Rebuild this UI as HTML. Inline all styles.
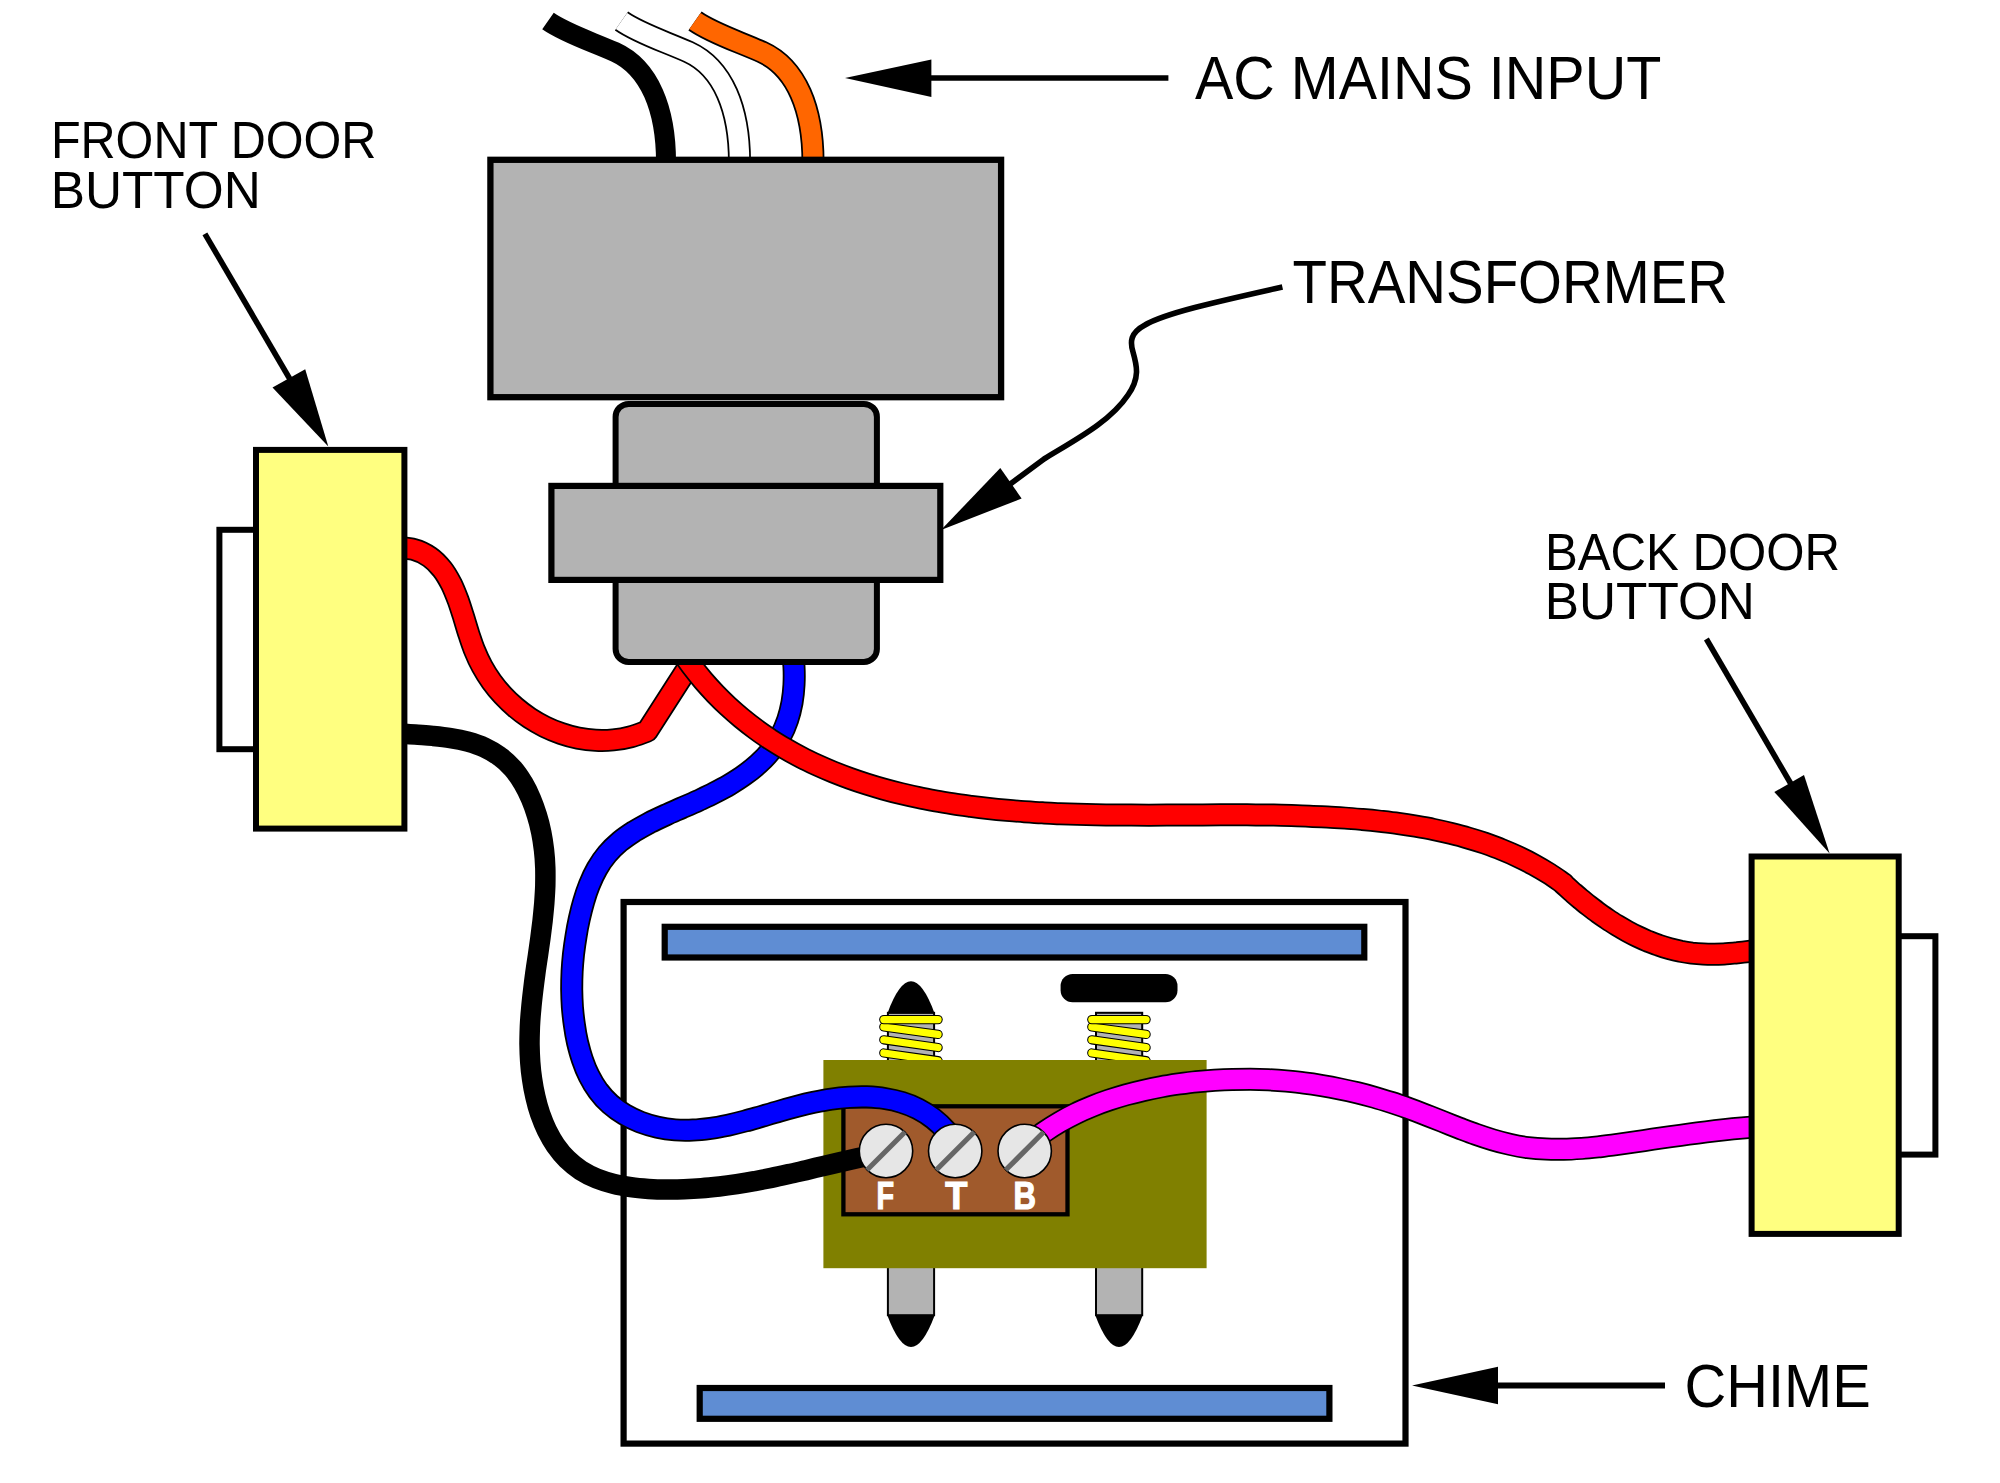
<!DOCTYPE html>
<html><head><meta charset="utf-8">
<style>
html,body{margin:0;padding:0;background:#fff;width:2000px;height:1483px;overflow:hidden}
svg{display:block}
text{font-family:"Liberation Sans",sans-serif;fill:#000}
</style></head>
<body>
<svg width="2000" height="1483" viewBox="0 0 2000 1483">
<rect x="0" y="0" width="2000" height="1483" fill="#fff"/>

<!-- AC mains wires -->
<g fill="none" stroke-linecap="butt">
  <path id="acw" d="M548,21 C565,33 590,41 615,52 C650,68 666,110 666,162" stroke="#000" stroke-width="20"/>
  <g transform="translate(73.5,0)">
    <path d="M548,21 C565,33 590,41 615,52 C650,68 666,110 666,162" stroke="#000" stroke-width="23"/>
    <path d="M548,21 C565,33 590,41 615,52 C650,68 666,110 666,162" stroke="#fff" stroke-width="19.5"/>
  </g>
  <g transform="translate(147,0)">
    <path d="M548,21 C565,33 590,41 615,52 C650,68 666,110 666,162" stroke="#000" stroke-width="23"/>
    <path d="M548,21 C565,33 590,41 615,52 C650,68 666,110 666,162" stroke="#ff6600" stroke-width="19.5"/>
  </g>
</g>

<!-- Chime box -->
<rect x="623.6" y="902" width="781.9" height="541.6" fill="#fff" stroke="#000" stroke-width="6.2"/>
<rect x="664.7" y="926.8" width="699.6" height="30.7" fill="#5f8dd3" stroke="#000" stroke-width="6.2"/>
<rect x="699.7" y="1388" width="629.7" height="30.8" fill="#5f8dd3" stroke="#000" stroke-width="6.2"/>

<!-- plungers -->
<g id="plunger" stroke="#000">
  <rect x="887.9" y="1012.8" width="46.2" height="302.4" fill="#b3b3b3" stroke-width="2"/>
  <path d="M887.4,1013.4 Q911,949.2 934.6,1013.4 Z" stroke="none" fill="#000"/>
  <path d="M887.4,1315.5 Q911,1378.5 934.6,1315.5 Z" stroke="none" fill="#000"/>
</g>
<g stroke="#000">
  <rect x="1096" y="1012.8" width="46.2" height="302.4" fill="#b3b3b3" stroke-width="2"/>
  <rect x="1060.6" y="973.9" width="116.9" height="28.3" rx="12" ry="12" fill="#000" stroke="none"/>
  <path d="M1095.4,1315.5 Q1119,1378.5 1142.6,1315.5 Z" stroke="none" fill="#000"/>
</g>

<!-- springs -->

<g stroke-linecap="round" fill="none">
  <path d="M883.8,1053 L938.1,1060.7" stroke="#000" stroke-width="9.3"/>
  <path d="M883.8,1053 L938.1,1060.7" stroke="#ff0" stroke-width="7.2"/>
  <path d="M883.8,1039.8 L938.1,1047.5" stroke="#000" stroke-width="9.3"/>
  <path d="M883.8,1039.8 L938.1,1047.5" stroke="#ff0" stroke-width="7.2"/>
  <path d="M883.8,1027 L938.1,1034.4" stroke="#000" stroke-width="9.3"/>
  <path d="M883.8,1027 L938.1,1034.4" stroke="#ff0" stroke-width="7.2"/>
  <path d="M883.8,1019.6 L938.1,1019.6" stroke="#000" stroke-width="9.3"/>
  <path d="M883.8,1019.6 L938.1,1019.6" stroke="#ff0" stroke-width="7.2"/>
</g>
<g stroke-linecap="round" fill="none" transform="translate(208,0)">
  <path d="M883.8,1053 L938.1,1060.7" stroke="#000" stroke-width="9.3"/>
  <path d="M883.8,1053 L938.1,1060.7" stroke="#ff0" stroke-width="7.2"/>
  <path d="M883.8,1039.8 L938.1,1047.5" stroke="#000" stroke-width="9.3"/>
  <path d="M883.8,1039.8 L938.1,1047.5" stroke="#ff0" stroke-width="7.2"/>
  <path d="M883.8,1027 L938.1,1034.4" stroke="#000" stroke-width="9.3"/>
  <path d="M883.8,1027 L938.1,1034.4" stroke="#ff0" stroke-width="7.2"/>
  <path d="M883.8,1019.6 L938.1,1019.6" stroke="#000" stroke-width="9.3"/>
  <path d="M883.8,1019.6 L938.1,1019.6" stroke="#ff0" stroke-width="7.2"/>
</g>

<!-- solenoid body -->
<rect x="823.4" y="1060" width="383.2" height="208.2" fill="#808000"/>
<rect x="843.4" y="1106.3" width="224.1" height="108" fill="#a05a2c" stroke="#000" stroke-width="4.3"/>

<!-- wires -->
<g fill="none" stroke-linecap="butt" stroke-linejoin="round">
  <path d="M396.2,547.6 C402.1,548.2 408.3,547.9 413.9,549.5 C419.4,551.0 424.9,553.6 429.6,556.9 C434.4,560.2 438.6,564.7 442.2,569.2 C445.9,573.8 448.7,579.0 451.4,584.1 C454.0,589.4 456.1,594.9 458.2,600.4 C460.2,606.0 461.9,611.6 463.7,617.3 C465.4,622.8 467.0,628.5 468.8,634.0 C470.7,639.6 472.5,645.3 474.7,650.7 C476.9,656.2 479.3,661.5 482.2,666.6 C485.0,671.8 488.2,676.8 491.6,681.6 C495.0,686.3 498.7,690.9 502.7,695.1 C506.7,699.4 511.0,703.5 515.4,707.3 C519.9,711.2 524.7,714.7 529.6,718.0 C534.5,721.2 539.6,724.1 544.8,726.7 C550.1,729.3 555.6,731.6 561.2,733.5 C566.7,735.4 572.4,737.0 578.1,738.1 C583.8,739.2 589.8,740.0 595.6,740.3 C601.5,740.6 607.4,740.5 613.2,739.9 C619.1,739.3 624.9,738.3 630.5,736.8 C636.2,735.4 641.6,733.1 647.1,731.2 L696,655" stroke="#000" stroke-width="23"/>
  <path d="M396.2,547.6 C402.1,548.2 408.3,547.9 413.9,549.5 C419.4,551.0 424.9,553.6 429.6,556.9 C434.4,560.2 438.6,564.7 442.2,569.2 C445.9,573.8 448.7,579.0 451.4,584.1 C454.0,589.4 456.1,594.9 458.2,600.4 C460.2,606.0 461.9,611.6 463.7,617.3 C465.4,622.8 467.0,628.5 468.8,634.0 C470.7,639.6 472.5,645.3 474.7,650.7 C476.9,656.2 479.3,661.5 482.2,666.6 C485.0,671.8 488.2,676.8 491.6,681.6 C495.0,686.3 498.7,690.9 502.7,695.1 C506.7,699.4 511.0,703.5 515.4,707.3 C519.9,711.2 524.7,714.7 529.6,718.0 C534.5,721.2 539.6,724.1 544.8,726.7 C550.1,729.3 555.6,731.6 561.2,733.5 C566.7,735.4 572.4,737.0 578.1,738.1 C583.8,739.2 589.8,740.0 595.6,740.3 C601.5,740.6 607.4,740.5 613.2,739.9 C619.1,739.3 624.9,738.3 630.5,736.8 C636.2,735.4 641.6,733.1 647.1,731.2 L696,655" stroke="#f00" stroke-width="19.5"/>
  <path d="M792.1,649.3 C792.7,655.2 793.7,661.1 794.0,667.0 C794.3,672.9 794.3,678.8 794.0,684.8 C793.7,690.8 793.0,696.9 792.0,702.7 C790.9,708.5 789.6,714.2 787.7,719.7 C785.8,725.3 783.5,730.9 780.6,736.1 C777.8,741.3 774.4,746.3 770.7,750.9 C767.0,755.5 762.8,759.8 758.4,763.8 C754.0,767.8 749.3,771.5 744.5,774.9 C739.7,778.4 734.7,781.5 729.6,784.6 C724.5,787.6 719.3,790.3 714.0,793.0 C708.9,795.7 703.6,798.1 698.3,800.6 C692.9,803.1 687.3,805.5 681.8,807.9 C676.4,810.3 671.1,812.5 665.8,815.0 C660.4,817.5 654.8,820.1 649.4,822.8 C644.2,825.6 639.0,828.4 634.0,831.5 C629.1,834.7 624.2,838.0 619.7,841.7 C615.2,845.5 610.9,849.6 607.1,854.1 C603.3,858.6 599.9,863.6 597.0,868.7 C594.0,873.9 591.5,879.4 589.3,884.9 C587.1,890.3 585.3,895.9 583.7,901.5 C582.0,907.2 580.6,913.0 579.3,918.8 C578.0,924.6 576.9,930.5 576.0,936.4 C575.0,942.3 574.2,948.3 573.5,954.2 C572.9,960.0 572.4,965.7 572.1,971.5 C571.8,977.4 571.7,983.4 571.7,989.3 C571.8,995.3 572.0,1001.2 572.4,1007.2 C572.9,1013.1 573.5,1019.0 574.4,1024.9 C575.2,1030.8 576.2,1036.7 577.5,1042.4 C578.9,1048.2 580.4,1053.9 582.3,1059.4 C584.2,1065.0 586.3,1070.5 589.0,1075.8 C591.6,1081.0 594.6,1086.2 598.2,1090.9 C601.7,1095.7 605.9,1100.3 610.3,1104.2 C614.7,1108.1 619.4,1111.4 624.4,1114.4 C629.5,1117.4 634.9,1119.9 640.4,1122.1 C646.0,1124.2 651.8,1125.9 657.6,1127.2 C663.3,1128.5 669.2,1129.4 675.1,1129.9 C681.1,1130.4 687.2,1130.4 693.1,1130.1 C699.0,1129.9 704.8,1129.2 710.6,1128.4 C716.4,1127.6 722.3,1126.4 728.1,1125.2 C733.8,1123.9 739.4,1122.5 745.1,1121.0 C750.8,1119.5 756.5,1117.8 762.2,1116.2 C768.0,1114.5 773.7,1112.8 779.4,1111.2 C785.2,1109.5 791.0,1107.9 796.8,1106.4 C802.4,1104.9 808.0,1103.5 813.8,1102.3 C819.6,1101.1 825.5,1099.9 831.4,1099.1 C837.3,1098.2 843.2,1097.6 849.1,1097.2 C854.9,1096.8 860.7,1096.6 866.6,1096.8 C872.5,1097.1 878.7,1097.5 884.6,1098.5 C890.4,1099.4 896.2,1100.6 901.8,1102.4 C907.4,1104.1 912.8,1106.2 918.0,1108.9 C923.3,1111.6 928.6,1115.0 933.3,1118.6 C937.9,1122.2 942.2,1126.2 946.0,1130.6 C949.9,1135.0 953.0,1140.1 956.5,1144.8" stroke="#000" stroke-width="23"/>
  <path d="M792.1,649.3 C792.7,655.2 793.7,661.1 794.0,667.0 C794.3,672.9 794.3,678.8 794.0,684.8 C793.7,690.8 793.0,696.9 792.0,702.7 C790.9,708.5 789.6,714.2 787.7,719.7 C785.8,725.3 783.5,730.9 780.6,736.1 C777.8,741.3 774.4,746.3 770.7,750.9 C767.0,755.5 762.8,759.8 758.4,763.8 C754.0,767.8 749.3,771.5 744.5,774.9 C739.7,778.4 734.7,781.5 729.6,784.6 C724.5,787.6 719.3,790.3 714.0,793.0 C708.9,795.7 703.6,798.1 698.3,800.6 C692.9,803.1 687.3,805.5 681.8,807.9 C676.4,810.3 671.1,812.5 665.8,815.0 C660.4,817.5 654.8,820.1 649.4,822.8 C644.2,825.6 639.0,828.4 634.0,831.5 C629.1,834.7 624.2,838.0 619.7,841.7 C615.2,845.5 610.9,849.6 607.1,854.1 C603.3,858.6 599.9,863.6 597.0,868.7 C594.0,873.9 591.5,879.4 589.3,884.9 C587.1,890.3 585.3,895.9 583.7,901.5 C582.0,907.2 580.6,913.0 579.3,918.8 C578.0,924.6 576.9,930.5 576.0,936.4 C575.0,942.3 574.2,948.3 573.5,954.2 C572.9,960.0 572.4,965.7 572.1,971.5 C571.8,977.4 571.7,983.4 571.7,989.3 C571.8,995.3 572.0,1001.2 572.4,1007.2 C572.9,1013.1 573.5,1019.0 574.4,1024.9 C575.2,1030.8 576.2,1036.7 577.5,1042.4 C578.9,1048.2 580.4,1053.9 582.3,1059.4 C584.2,1065.0 586.3,1070.5 589.0,1075.8 C591.6,1081.0 594.6,1086.2 598.2,1090.9 C601.7,1095.7 605.9,1100.3 610.3,1104.2 C614.7,1108.1 619.4,1111.4 624.4,1114.4 C629.5,1117.4 634.9,1119.9 640.4,1122.1 C646.0,1124.2 651.8,1125.9 657.6,1127.2 C663.3,1128.5 669.2,1129.4 675.1,1129.9 C681.1,1130.4 687.2,1130.4 693.1,1130.1 C699.0,1129.9 704.8,1129.2 710.6,1128.4 C716.4,1127.6 722.3,1126.4 728.1,1125.2 C733.8,1123.9 739.4,1122.5 745.1,1121.0 C750.8,1119.5 756.5,1117.8 762.2,1116.2 C768.0,1114.5 773.7,1112.8 779.4,1111.2 C785.2,1109.5 791.0,1107.9 796.8,1106.4 C802.4,1104.9 808.0,1103.5 813.8,1102.3 C819.6,1101.1 825.5,1099.9 831.4,1099.1 C837.3,1098.2 843.2,1097.6 849.1,1097.2 C854.9,1096.8 860.7,1096.6 866.6,1096.8 C872.5,1097.1 878.7,1097.5 884.6,1098.5 C890.4,1099.4 896.2,1100.6 901.8,1102.4 C907.4,1104.1 912.8,1106.2 918.0,1108.9 C923.3,1111.6 928.6,1115.0 933.3,1118.6 C937.9,1122.2 942.2,1126.2 946.0,1130.6 C949.9,1135.0 953.0,1140.1 956.5,1144.8" stroke="#00f" stroke-width="19.5"/>
  <path d="M681.6,652.0 C685.1,656.9 688.5,661.9 692.1,666.7 C695.7,671.4 699.4,676.0 703.2,680.5 C707.1,685.0 711.1,689.4 715.2,693.7 C719.4,698.0 723.7,702.3 728.1,706.4 C732.5,710.4 736.9,714.3 741.5,718.1 C746.1,721.9 750.7,725.5 755.5,729.0 C760.2,732.5 765.0,735.8 769.9,739.1 C774.9,742.3 780.0,745.5 785.2,748.5 C790.4,751.6 795.7,754.5 801.0,757.2 C806.2,759.9 811.4,762.4 816.7,764.9 C822.2,767.4 827.7,769.8 833.3,772.1 C838.8,774.3 844.2,776.4 849.8,778.4 C855.3,780.4 860.9,782.3 866.5,784.0 C872.2,785.8 877.9,787.5 883.6,789.1 C889.3,790.7 895.1,792.2 900.9,793.6 C906.7,795.0 912.5,796.3 918.4,797.5 C924.3,798.8 930.2,799.9 936.1,801.0 C941.9,802.1 947.7,803.0 953.5,803.9 C959.3,804.8 965.2,805.6 971.0,806.4 C976.9,807.2 982.7,807.9 988.6,808.5 C994.6,809.2 1000.8,809.8 1006.8,810.3 C1012.7,810.8 1018.6,811.3 1024.5,811.7 C1030.4,812.1 1036.3,812.5 1042.2,812.8 C1048.1,813.2 1054.0,813.4 1059.9,813.7 C1065.8,813.9 1071.6,814.1 1077.5,814.3 C1083.5,814.5 1089.6,814.6 1095.6,814.8 C1101.5,814.9 1107.3,815.0 1113.1,815.0 C1119.1,815.1 1125.1,815.1 1131.1,815.1 C1137.1,815.2 1143.0,815.2 1149.0,815.2 C1155.0,815.1 1160.9,815.1 1166.9,815.1 C1172.8,815.1 1178.8,815.0 1184.7,815.0 C1190.7,815.0 1196.6,814.9 1202.6,814.9 C1208.5,814.9 1214.4,814.8 1220.4,814.8 C1226.3,814.8 1232.2,814.8 1238.2,814.8 C1244.1,814.8 1250.0,814.9 1255.9,814.9 C1261.9,815.0 1267.8,815.0 1273.7,815.1 C1279.7,815.3 1285.6,815.4 1291.5,815.5 C1297.5,815.7 1303.4,815.9 1309.4,816.2 C1315.3,816.4 1321.3,816.7 1327.2,817.0 C1333.2,817.3 1339.2,817.7 1345.1,818.1 C1351.0,818.5 1356.7,819.0 1362.5,819.5 C1368.5,820.0 1374.5,820.6 1380.5,821.3 C1386.4,822.0 1392.4,822.7 1398.4,823.5 C1404.2,824.3 1409.9,825.2 1415.7,826.2 C1421.6,827.2 1427.5,828.2 1433.4,829.4 C1439.2,830.6 1445.1,831.9 1450.9,833.4 C1456.6,834.8 1462.1,836.2 1467.7,837.9 C1473.4,839.5 1479.1,841.3 1484.8,843.2 C1490.4,845.2 1496.0,847.2 1501.5,849.5 C1507.0,851.7 1512.5,854.0 1517.9,856.6 C1523.3,859.1 1528.7,861.8 1533.9,864.7 C1539.0,867.5 1544.1,870.5 1549.0,873.6 C1554.0,876.7 1558.8,880.2 1563.7,883.6 L1563.4,883.8 C1566.2,886.3 1569.0,889.0 1571.8,891.5 C1574.7,894.0 1577.5,896.5 1580.5,898.9 C1583.4,901.3 1586.4,903.7 1589.4,906.1 C1592.4,908.4 1595.4,910.7 1598.5,913.0 C1601.6,915.2 1604.7,917.4 1607.9,919.5 C1611.0,921.6 1614.2,923.6 1617.4,925.6 C1620.7,927.6 1624.0,929.5 1627.4,931.3 C1630.7,933.1 1634.1,934.9 1637.5,936.5 C1640.9,938.1 1644.4,939.7 1647.9,941.2 C1651.5,942.6 1655.0,944.0 1658.6,945.2 C1662.2,946.5 1665.8,947.6 1669.5,948.6 C1673.2,949.6 1676.9,950.5 1680.6,951.3 C1684.4,952.0 1688.1,952.6 1691.9,953.1 C1695.6,953.5 1699.4,953.8 1703.2,954.0 C1707.0,954.2 1710.9,954.2 1714.6,954.2 C1718.4,954.1 1722.2,954.0 1726.0,953.7 C1729.8,953.5 1733.6,953.1 1737.4,952.8 C1741.2,952.4 1745.0,951.9 1748.8,951.5 C1752.6,951.0 1756.3,950.5 1760.0,950.0" stroke="#000" stroke-width="23"/>
  <path d="M681.6,652.0 C685.1,656.9 688.5,661.9 692.1,666.7 C695.7,671.4 699.4,676.0 703.2,680.5 C707.1,685.0 711.1,689.4 715.2,693.7 C719.4,698.0 723.7,702.3 728.1,706.4 C732.5,710.4 736.9,714.3 741.5,718.1 C746.1,721.9 750.7,725.5 755.5,729.0 C760.2,732.5 765.0,735.8 769.9,739.1 C774.9,742.3 780.0,745.5 785.2,748.5 C790.4,751.6 795.7,754.5 801.0,757.2 C806.2,759.9 811.4,762.4 816.7,764.9 C822.2,767.4 827.7,769.8 833.3,772.1 C838.8,774.3 844.2,776.4 849.8,778.4 C855.3,780.4 860.9,782.3 866.5,784.0 C872.2,785.8 877.9,787.5 883.6,789.1 C889.3,790.7 895.1,792.2 900.9,793.6 C906.7,795.0 912.5,796.3 918.4,797.5 C924.3,798.8 930.2,799.9 936.1,801.0 C941.9,802.1 947.7,803.0 953.5,803.9 C959.3,804.8 965.2,805.6 971.0,806.4 C976.9,807.2 982.7,807.9 988.6,808.5 C994.6,809.2 1000.8,809.8 1006.8,810.3 C1012.7,810.8 1018.6,811.3 1024.5,811.7 C1030.4,812.1 1036.3,812.5 1042.2,812.8 C1048.1,813.2 1054.0,813.4 1059.9,813.7 C1065.8,813.9 1071.6,814.1 1077.5,814.3 C1083.5,814.5 1089.6,814.6 1095.6,814.8 C1101.5,814.9 1107.3,815.0 1113.1,815.0 C1119.1,815.1 1125.1,815.1 1131.1,815.1 C1137.1,815.2 1143.0,815.2 1149.0,815.2 C1155.0,815.1 1160.9,815.1 1166.9,815.1 C1172.8,815.1 1178.8,815.0 1184.7,815.0 C1190.7,815.0 1196.6,814.9 1202.6,814.9 C1208.5,814.9 1214.4,814.8 1220.4,814.8 C1226.3,814.8 1232.2,814.8 1238.2,814.8 C1244.1,814.8 1250.0,814.9 1255.9,814.9 C1261.9,815.0 1267.8,815.0 1273.7,815.1 C1279.7,815.3 1285.6,815.4 1291.5,815.5 C1297.5,815.7 1303.4,815.9 1309.4,816.2 C1315.3,816.4 1321.3,816.7 1327.2,817.0 C1333.2,817.3 1339.2,817.7 1345.1,818.1 C1351.0,818.5 1356.7,819.0 1362.5,819.5 C1368.5,820.0 1374.5,820.6 1380.5,821.3 C1386.4,822.0 1392.4,822.7 1398.4,823.5 C1404.2,824.3 1409.9,825.2 1415.7,826.2 C1421.6,827.2 1427.5,828.2 1433.4,829.4 C1439.2,830.6 1445.1,831.9 1450.9,833.4 C1456.6,834.8 1462.1,836.2 1467.7,837.9 C1473.4,839.5 1479.1,841.3 1484.8,843.2 C1490.4,845.2 1496.0,847.2 1501.5,849.5 C1507.0,851.7 1512.5,854.0 1517.9,856.6 C1523.3,859.1 1528.7,861.8 1533.9,864.7 C1539.0,867.5 1544.1,870.5 1549.0,873.6 C1554.0,876.7 1558.8,880.2 1563.7,883.6 L1563.4,883.8 C1566.2,886.3 1569.0,889.0 1571.8,891.5 C1574.7,894.0 1577.5,896.5 1580.5,898.9 C1583.4,901.3 1586.4,903.7 1589.4,906.1 C1592.4,908.4 1595.4,910.7 1598.5,913.0 C1601.6,915.2 1604.7,917.4 1607.9,919.5 C1611.0,921.6 1614.2,923.6 1617.4,925.6 C1620.7,927.6 1624.0,929.5 1627.4,931.3 C1630.7,933.1 1634.1,934.9 1637.5,936.5 C1640.9,938.1 1644.4,939.7 1647.9,941.2 C1651.5,942.6 1655.0,944.0 1658.6,945.2 C1662.2,946.5 1665.8,947.6 1669.5,948.6 C1673.2,949.6 1676.9,950.5 1680.6,951.3 C1684.4,952.0 1688.1,952.6 1691.9,953.1 C1695.6,953.5 1699.4,953.8 1703.2,954.0 C1707.0,954.2 1710.9,954.2 1714.6,954.2 C1718.4,954.1 1722.2,954.0 1726.0,953.7 C1729.8,953.5 1733.6,953.1 1737.4,952.8 C1741.2,952.4 1745.0,951.9 1748.8,951.5 C1752.6,951.0 1756.3,950.5 1760.0,950.0" stroke="#f00" stroke-width="19.5"/>
  <path d="M397.2,733.2 C403.2,733.7 409.2,734.1 415.2,734.5 C421.1,735.0 426.9,735.3 432.8,735.9 C438.7,736.5 444.7,737.1 450.5,738.1 C456.3,739.0 462.1,740.1 467.8,741.7 C473.4,743.3 479.1,745.1 484.4,747.6 C489.7,750.1 495.0,753.0 499.7,756.5 C504.5,759.9 508.9,764.1 512.8,768.5 C516.7,772.9 519.9,777.8 523.0,782.8 C526.0,787.9 528.7,793.4 531.0,798.9 C533.3,804.3 535.2,809.7 536.9,815.3 C538.7,820.9 540.1,826.8 541.3,832.6 C542.5,838.4 543.3,844.1 544.0,850.0 C544.7,855.8 545.1,861.8 545.3,867.8 C545.5,873.7 545.4,879.7 545.3,885.6 C545.1,891.4 544.7,897.2 544.3,903.0 C543.8,908.9 543.2,914.7 542.6,920.6 C541.9,926.4 541.1,932.3 540.4,938.1 C539.6,944.0 538.7,949.9 537.9,955.8 C537.0,961.7 536.1,967.6 535.3,973.5 C534.5,979.3 533.8,985.0 533.1,990.9 C532.4,996.8 531.7,1002.8 531.2,1008.8 C530.6,1014.7 530.2,1020.5 529.9,1026.4 C529.7,1032.2 529.5,1038.1 529.5,1044.0 C529.6,1050.0 529.8,1056.0 530.2,1061.9 C530.6,1067.7 531.2,1073.5 532.1,1079.3 C532.9,1085.1 534.0,1091.0 535.4,1096.8 C536.7,1102.5 538.2,1108.1 540.1,1113.7 C542.1,1119.3 544.3,1125.0 546.9,1130.4 C549.5,1135.6 552.3,1140.7 555.6,1145.5 C559.0,1150.3 562.8,1155.1 567.0,1159.2 C571.2,1163.3 575.9,1167.1 580.8,1170.3 C585.8,1173.5 591.2,1176.2 596.7,1178.4 C602.2,1180.6 607.9,1182.3 613.6,1183.8 C619.2,1185.2 625.0,1186.2 630.8,1187.1 C636.6,1188.0 642.6,1188.5 648.6,1188.9 C654.4,1189.3 660.3,1189.5 666.2,1189.5 C672.1,1189.6 678.1,1189.5 684.0,1189.2 C689.9,1189.0 695.6,1188.7 701.4,1188.2 C707.3,1187.7 713.4,1187.1 719.3,1186.5 C725.2,1185.8 730.9,1185.0 736.8,1184.1 C742.6,1183.2 748.6,1182.2 754.4,1181.2 C760.1,1180.1 765.7,1179.0 771.4,1177.9 C777.2,1176.7 783.0,1175.4 788.8,1174.1 C794.6,1172.9 800.3,1171.5 806.1,1170.2 C811.9,1168.8 817.8,1167.4 823.6,1166.1 C829.3,1164.7 835.0,1163.4 840.7,1162.0 C846.5,1160.7 852.4,1159.3 858.2,1158.0 C863.9,1156.8 869.5,1155.5 875.2,1154.4 C880.9,1153.2 886.7,1152.0 892.5,1150.9" stroke="#000" stroke-width="20.5"/>
  <path d="M1030.0,1142.8 C1034.9,1139.1 1039.6,1135.2 1044.6,1131.7 C1049.5,1128.3 1054.5,1125.1 1059.7,1122.1 C1064.9,1119.1 1070.2,1116.2 1075.6,1113.6 C1080.9,1111.0 1086.3,1108.7 1091.8,1106.4 C1097.4,1104.1 1103.2,1102.0 1108.9,1100.1 C1114.6,1098.2 1120.3,1096.4 1126.0,1094.8 C1131.8,1093.2 1137.6,1091.7 1143.5,1090.4 C1149.3,1089.1 1155.2,1087.9 1161.1,1086.8 C1167.0,1085.7 1172.9,1084.8 1178.8,1083.9 C1184.7,1083.1 1190.6,1082.3 1196.5,1081.7 C1202.5,1081.1 1208.6,1080.6 1214.6,1080.2 C1220.5,1079.8 1226.3,1079.5 1232.3,1079.4 C1238.3,1079.2 1244.3,1079.2 1250.3,1079.2 C1256.3,1079.3 1262.3,1079.5 1268.3,1079.8 C1274.3,1080.1 1280.3,1080.5 1286.3,1081.0 C1292.3,1081.6 1298.2,1082.2 1304.2,1083.0 C1310.1,1083.7 1316.0,1084.6 1322.0,1085.6 C1327.9,1086.6 1333.8,1087.7 1339.7,1088.9 C1345.6,1090.1 1351.5,1091.4 1357.3,1092.8 C1363.0,1094.2 1368.7,1095.7 1374.4,1097.3 C1380.2,1099.0 1386.0,1100.8 1391.8,1102.6 C1397.4,1104.4 1403.0,1106.4 1408.6,1108.4 C1414.2,1110.4 1419.7,1112.5 1425.3,1114.7 C1431.0,1116.9 1436.7,1119.2 1442.3,1121.4 C1447.9,1123.6 1453.3,1125.8 1458.9,1128.0 C1464.5,1130.1 1470.2,1132.3 1475.9,1134.3 C1481.6,1136.3 1487.3,1138.2 1493.0,1139.9 C1498.7,1141.6 1504.5,1143.1 1510.3,1144.4 C1516.1,1145.7 1521.9,1146.8 1527.8,1147.6 C1533.8,1148.3 1540.0,1148.8 1546.0,1149.1 C1551.9,1149.4 1557.7,1149.4 1563.6,1149.3 C1569.6,1149.2 1575.8,1148.8 1581.8,1148.4 C1587.8,1147.9 1593.7,1147.3 1599.7,1146.7 C1605.7,1146.0 1611.7,1145.2 1617.6,1144.4 C1623.5,1143.6 1629.3,1142.7 1635.1,1141.9 C1641.0,1141.0 1647.0,1140.1 1652.9,1139.2 C1658.9,1138.4 1664.7,1137.5 1670.7,1136.7 C1676.6,1135.8 1682.7,1134.9 1688.7,1134.1 C1694.6,1133.4 1700.4,1132.6 1706.3,1131.9 C1712.2,1131.1 1718.2,1130.4 1724.2,1129.8 C1730.1,1129.1 1736.1,1128.5 1742.0,1128.0 C1748.0,1127.5 1753.9,1127.1 1759.9,1126.6" stroke="#000" stroke-width="23"/>
  <path d="M1030.0,1142.8 C1034.9,1139.1 1039.6,1135.2 1044.6,1131.7 C1049.5,1128.3 1054.5,1125.1 1059.7,1122.1 C1064.9,1119.1 1070.2,1116.2 1075.6,1113.6 C1080.9,1111.0 1086.3,1108.7 1091.8,1106.4 C1097.4,1104.1 1103.2,1102.0 1108.9,1100.1 C1114.6,1098.2 1120.3,1096.4 1126.0,1094.8 C1131.8,1093.2 1137.6,1091.7 1143.5,1090.4 C1149.3,1089.1 1155.2,1087.9 1161.1,1086.8 C1167.0,1085.7 1172.9,1084.8 1178.8,1083.9 C1184.7,1083.1 1190.6,1082.3 1196.5,1081.7 C1202.5,1081.1 1208.6,1080.6 1214.6,1080.2 C1220.5,1079.8 1226.3,1079.5 1232.3,1079.4 C1238.3,1079.2 1244.3,1079.2 1250.3,1079.2 C1256.3,1079.3 1262.3,1079.5 1268.3,1079.8 C1274.3,1080.1 1280.3,1080.5 1286.3,1081.0 C1292.3,1081.6 1298.2,1082.2 1304.2,1083.0 C1310.1,1083.7 1316.0,1084.6 1322.0,1085.6 C1327.9,1086.6 1333.8,1087.7 1339.7,1088.9 C1345.6,1090.1 1351.5,1091.4 1357.3,1092.8 C1363.0,1094.2 1368.7,1095.7 1374.4,1097.3 C1380.2,1099.0 1386.0,1100.8 1391.8,1102.6 C1397.4,1104.4 1403.0,1106.4 1408.6,1108.4 C1414.2,1110.4 1419.7,1112.5 1425.3,1114.7 C1431.0,1116.9 1436.7,1119.2 1442.3,1121.4 C1447.9,1123.6 1453.3,1125.8 1458.9,1128.0 C1464.5,1130.1 1470.2,1132.3 1475.9,1134.3 C1481.6,1136.3 1487.3,1138.2 1493.0,1139.9 C1498.7,1141.6 1504.5,1143.1 1510.3,1144.4 C1516.1,1145.7 1521.9,1146.8 1527.8,1147.6 C1533.8,1148.3 1540.0,1148.8 1546.0,1149.1 C1551.9,1149.4 1557.7,1149.4 1563.6,1149.3 C1569.6,1149.2 1575.8,1148.8 1581.8,1148.4 C1587.8,1147.9 1593.7,1147.3 1599.7,1146.7 C1605.7,1146.0 1611.7,1145.2 1617.6,1144.4 C1623.5,1143.6 1629.3,1142.7 1635.1,1141.9 C1641.0,1141.0 1647.0,1140.1 1652.9,1139.2 C1658.9,1138.4 1664.7,1137.5 1670.7,1136.7 C1676.6,1135.8 1682.7,1134.9 1688.7,1134.1 C1694.6,1133.4 1700.4,1132.6 1706.3,1131.9 C1712.2,1131.1 1718.2,1130.4 1724.2,1129.8 C1730.1,1129.1 1736.1,1128.5 1742.0,1128.0 C1748.0,1127.5 1753.9,1127.1 1759.9,1126.6" stroke="#f0f" stroke-width="19.5"/>
</g>

<!-- screws -->
<g id="screws">
  <g transform="translate(886,1151)">
    <circle r="26.7" fill="#e6e6e6" stroke="#000" stroke-width="1.6"/>
    <path d="M-19,19 L19,-19" stroke="#666" stroke-width="5.2"/>
  </g>
  <g transform="translate(955.2,1151)">
    <circle r="26.7" fill="#e6e6e6" stroke="#000" stroke-width="1.6"/>
    <path d="M-19,19 L19,-19" stroke="#666" stroke-width="5.2"/>
  </g>
  <g transform="translate(1024.7,1151)">
    <circle r="26.7" fill="#e6e6e6" stroke="#000" stroke-width="1.6"/>
    <path d="M-19,19 L19,-19" stroke="#666" stroke-width="5.2"/>
  </g>
</g>
<g font-weight="bold" font-size="38" text-anchor="middle" style="fill:#fff;stroke:#fff;stroke-width:1.2">
  <text transform="translate(885.3,1208.9) scale(0.757,1)" x="0" y="0" style="fill:#fff">F</text>
  <text transform="translate(956.25,1208.9) scale(0.954,1)" x="0" y="0" style="fill:#fff">T</text>
  <text transform="translate(1024.7,1208.9) scale(0.82,1)" x="0" y="0" style="fill:#fff">B</text>
</g>

<!-- transformer -->
<rect x="490.4" y="159.8" width="510.7" height="237.4" fill="#b3b3b3" stroke="#000" stroke-width="6.3"/>
<rect x="615.6" y="403.9" width="261.3" height="258.1" rx="13" ry="13" fill="#b3b3b3" stroke="#000" stroke-width="6"/>
<rect x="551.4" y="485.9" width="388.9" height="94" fill="#b3b3b3" stroke="#000" stroke-width="6.2"/>

<!-- buttons -->
<rect x="219.4" y="529.8" width="60" height="219.4" fill="#fff" stroke="#000" stroke-width="6"/>
<rect x="256" y="449.9" width="148.4" height="378.7" fill="#ffff80" stroke="#000" stroke-width="6"/>
<rect x="1870" y="936.2" width="65.4" height="218.4" fill="#fff" stroke="#000" stroke-width="6"/>
<rect x="1751.6" y="856.5" width="147.1" height="377.4" fill="#ffff80" stroke="#000" stroke-width="6"/>

<!-- arrows -->
<g stroke="#000" fill="none" stroke-width="5.6">
  <path d="M931,78 L1168.4,78"/>
  <path d="M1498,1385.5 L1665,1385.5" stroke-width="6.2"/>
  <path d="M204.9,233.8 L291,381"/>
  <path d="M1706.4,639 L1791,784"/>
  <path d="M1282.4,287 C1220,301 1165,313 1145,325 C1130,333 1130,342 1133,352 C1137,366 1140,378 1128,395 C1110,422 1075,440 1044,459 L1009,485"/>
</g>
<g fill="#000">
  <polygon points="845,78 931.4,59.6 931.4,97"/>
  <polygon points="1412,1385.5 1498,1366.75 1498,1404.25"/>
  <polygon points="328.3,446.5 272.5,387.5 305.2,369.2"/>
  <polygon points="1829.6,853.6 1774.3,792 1804,775"/>
  <polygon points="941,530 1000.3,468 1021.6,498.5"/>
</g>

<!-- labels -->
<g font-size="61">
  <text x="1194.9" y="99.25" textLength="466.4" lengthAdjust="spacingAndGlyphs">AC MAINS INPUT</text>
  <text x="1292.5" y="303.4" textLength="435.5" lengthAdjust="spacingAndGlyphs">TRANSFORMER</text>
  <text x="1684.6" y="1406.75" textLength="186.2" lengthAdjust="spacingAndGlyphs">CHIME</text>
</g>
<g font-size="52.2">
  <text x="50.9" y="158.2" textLength="325.5" lengthAdjust="spacingAndGlyphs">FRONT DOOR</text>
  <text x="50.7" y="208.1" textLength="210.1" lengthAdjust="spacingAndGlyphs">BUTTON</text>
  <text x="1545" y="569.8" textLength="295" lengthAdjust="spacingAndGlyphs">BACK DOOR</text>
  <text x="1544.8" y="619.3" textLength="210.1" lengthAdjust="spacingAndGlyphs">BUTTON</text>
</g>
</svg>
</body></html>
